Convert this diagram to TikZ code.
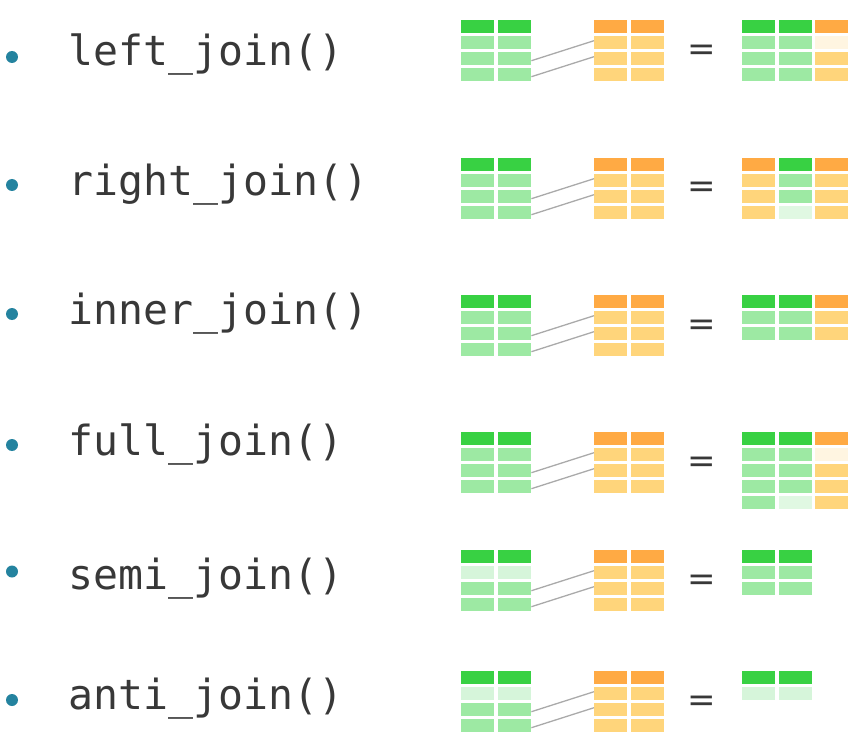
\documentclass[tikz,border=0pt]{standalone}
\usepackage{fontspec}
\setmonofont{DejaVu Sans Mono}
\newfontfamily\eqfont{DejaVu Sans}
\definecolor{DG}{HTML}{38D143}
\definecolor{LG}{HTML}{9DE9A3}
\definecolor{VLG}{HTML}{D6F5DA}
\definecolor{XLG}{HTML}{E0F8E2}
\definecolor{OH}{HTML}{FFAA44}
\definecolor{LO}{HTML}{FFD57B}
\definecolor{FO}{HTML}{FFF5E1}
\definecolor{linkgray}{HTML}{AAAAAA}
\definecolor{txt}{HTML}{383838}
\definecolor{bul}{HTML}{24839F}
\newcommand{\jtab}[5]{%
  \foreach \rowc [count=\r from 0] in {#5} {
    \foreach \cc [count=\k from 0] in \rowc {
      \node[cell, fill=\cc] (#1-\r-\k) at ({#2+\k*#4}, {#3+\r*16}) {};
    }
  }%
}
\begin{document}
\begin{tikzpicture}[x=1pt, y=-1pt,
  cell/.style={rectangle, inner sep=0pt, minimum width=33pt, minimum height=13pt, anchor=north west, draw=none},
  link/.style={draw=linkgray, line width=1.3pt},
  fname/.style={font=\fontsize{41.5}{48}\selectfont\ttfamily, text=txt, inner sep=0pt, anchor=base west},
  bulletdot/.style={circle, fill=bul, inner sep=0pt, minimum size=12pt},
  eqsign/.style={font=\fontsize{34}{40}\selectfont\eqfont, text=txt, inner sep=0pt}]
\useasboundingbox (0,0) rectangle (868,741);

% ---- labels and bullets
\node[bulletdot] (b1) at (12,57) {};
\node[fname] (t1) at (68.5,66) {left\_join()};
\node[bulletdot] (b2) at (12,185) {};
\node[fname] (t2) at (68.5,196) {right\_join()};
\node[bulletdot] (b3) at (12,314) {};
\node[fname] (t3) at (68.5,324.5) {inner\_join()};
\node[bulletdot] (b4) at (12,445) {};
\node[fname] (t4) at (68.5,455) {full\_join()};
\node[bulletdot] (b5) at (12,571.5) {};
\node[fname] (t5) at (68.5,589) {semi\_join()};
\node[bulletdot] (b6) at (12,700) {};
\node[fname] (t6) at (68.5,709.5) {anti\_join()};

% ---- group 1: left_join
\jtab{L1}{461}{20}{37}{{DG,DG},{LG,LG},{LG,LG},{LG,LG}}
\jtab{M1}{594}{20}{37}{{OH,OH},{LO,LO},{LO,LO},{LO,LO}}
\jtab{R1}{742}{20}{36.5}{{DG,DG,OH},{LG,LG,FO},{LG,LG,LO},{LG,LG,LO}}
\node[eqsign] (e1) at (701.5,53) {=};
\draw[link] ([yshift=-2pt]L1-2-1.east) -- ([yshift=2pt]M1-1-0.west);
\draw[link] ([yshift=-2pt]L1-3-1.east) -- ([yshift=2pt]M1-2-0.west);

% ---- group 2: right_join
\jtab{L2}{461}{158}{37}{{DG,DG},{LG,LG},{LG,LG},{LG,LG}}
\jtab{M2}{594}{158}{37}{{OH,OH},{LO,LO},{LO,LO},{LO,LO}}
\jtab{R2}{742}{158}{36.5}{{OH,DG,OH},{LO,LG,LO},{LO,LG,LO},{LO,XLG,LO}}
\node[eqsign] (e2) at (701.5,190) {=};
\draw[link] ([yshift=-2pt]L2-2-1.east) -- ([yshift=2pt]M2-1-0.west);
\draw[link] ([yshift=-2pt]L2-3-1.east) -- ([yshift=2pt]M2-2-0.west);

% ---- group 3: inner_join
\jtab{L3}{461}{295}{37}{{DG,DG},{LG,LG},{LG,LG},{LG,LG}}
\jtab{M3}{594}{295}{37}{{OH,OH},{LO,LO},{LO,LO},{LO,LO}}
\jtab{R3}{742}{295}{36.5}{{DG,DG,OH},{LG,LG,LO},{LG,LG,LO}}
\node[eqsign] (e3) at (701.5,328) {=};
\draw[link] ([yshift=-2pt]L3-2-1.east) -- ([yshift=2pt]M3-1-0.west);
\draw[link] ([yshift=-2pt]L3-3-1.east) -- ([yshift=2pt]M3-2-0.west);

% ---- group 4: full_join
\jtab{L4}{461}{432}{37}{{DG,DG},{LG,LG},{LG,LG},{LG,LG}}
\jtab{M4}{594}{432}{37}{{OH,OH},{LO,LO},{LO,LO},{LO,LO}}
\jtab{R4}{742}{432}{36.5}{{DG,DG,OH},{LG,LG,FO},{LG,LG,LO},{LG,LG,LO},{LG,XLG,LO}}
\node[eqsign] (e4) at (701.5,465) {=};
\draw[link] ([yshift=-2pt]L4-2-1.east) -- ([yshift=2pt]M4-1-0.west);
\draw[link] ([yshift=-2pt]L4-3-1.east) -- ([yshift=2pt]M4-2-0.west);

% ---- group 5: semi_join
\jtab{L5}{461}{550}{37}{{DG,DG},{VLG,VLG},{LG,LG},{LG,LG}}
\jtab{M5}{594}{550}{37}{{OH,OH},{LO,LO},{LO,LO},{LO,LO}}
\jtab{R5}{742}{550}{36.5}{{DG,DG},{LG,LG},{LG,LG}}
\node[eqsign] (e5) at (701.5,583) {=};
\draw[link] ([yshift=-2pt]L5-2-1.east) -- ([yshift=2pt]M5-1-0.west);
\draw[link] ([yshift=-2pt]L5-3-1.east) -- ([yshift=2pt]M5-2-0.west);

% ---- group 6: anti_join
\jtab{L6}{461}{671}{37}{{DG,DG},{VLG,VLG},{LG,LG},{LG,LG}}
\jtab{M6}{594}{671}{37}{{OH,OH},{LO,LO},{LO,LO},{LO,LO}}
\jtab{R6}{742}{671}{36.5}{{DG,DG},{VLG,VLG}}
\node[eqsign] (e6) at (701.5,704) {=};
\draw[link] ([yshift=-2pt]L6-2-1.east) -- ([yshift=2pt]M6-1-0.west);
\draw[link] ([yshift=-2pt]L6-3-1.east) -- ([yshift=2pt]M6-2-0.west);
\end{tikzpicture}
\end{document}
